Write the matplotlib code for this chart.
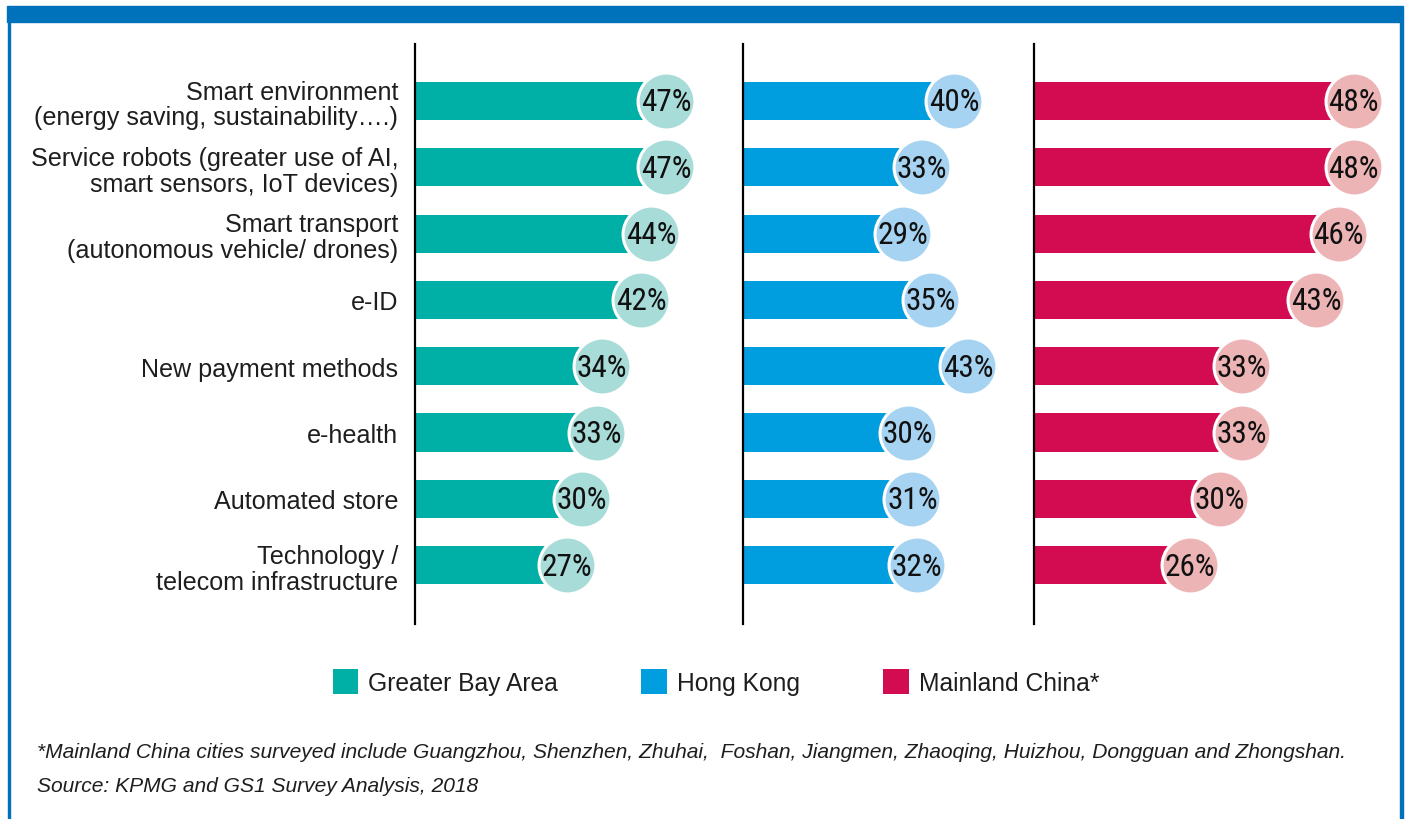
import matplotlib
matplotlib.use("Agg")
import matplotlib.pyplot as plt
from matplotlib.patches import Rectangle, Patch
from matplotlib import font_manager
from matplotlib.font_manager import FontProperties

categories = [
    "Smart environment\n(energy saving, sustainability\u2026.)",
    "Service robots (greater use of AI,\nsmart sensors, IoT devices)",
    "Smart transport\n(autonomous vehicle/ drones)",
    "e-ID",
    "New payment methods",
    "e-health",
    "Automated store",
    "Technology /\ntelecom infrastructure",
]
series_names = ["Greater Bay Area", "Hong Kong", "Mainland China*"]
gba = [47, 47, 44, 42, 34, 33, 30, 27]
hk = [40, 33, 29, 35, 43, 30, 31, 32]
mc = [48, 48, 46, 43, 33, 33, 30, 26]
footnote = ("*Mainland China cities surveyed include Guangzhou, Shenzhen, Zhuhai,  Foshan, "
            "Jiangmen, Zhaoqing, Huizhou, Dongguan and Zhongshan.")
source = "Source: KPMG and GS1 Survey Analysis, 2018"

bar_colors = ["#00afa5", "#009ddf", "#d30c52"]
circle_colors = ["#a8dcd8", "#a6d3f1", "#edb4b6"]
frame_blue = "#0071bb"
text_color = "#1e1e1e"

W, H = 1407, 820
fig = plt.figure(figsize=(W / 100, H / 100), dpi=100)

label_font = "Liberation Sans"

# find a condensed face for the percentage labels
cond = None
for f in font_manager.fontManager.ttflist:
    nm = f.name.lower()
    is_cond = (f.stretch in ("condensed", "semi-condensed", "extra-condensed")
               or "narrow" in nm or "condensed" in nm
               or "condensed" in f.fname.lower() or "narrow" in f.fname.lower())
    if is_cond and f.style == "normal" and f.weight in (400, "normal", "regular"):
        if cond is None or "roboto" in nm or "liberation" in nm:
            cond = f
if cond is not None:
    num_prop = FontProperties(fname=cond.fname, size=22.5)
else:
    num_prop = FontProperties(family="Roboto", size=18)

# panel layout in pixels: (spine x, right x, px per %, value at spine)
panels = [
    (415, 705, 4.95, -3.7),
    (743, 1010, 4.64, -5.5),
    (1034, 1395, 7.45, 5.1),
]
ax_top, ax_bot = 45, 625
n = len(categories)
row_px = 66.3
first_row = 102
y_top = -(first_row - ax_top) / row_px
y_bot = (ax_bot - first_row) / row_px

for k, ((x0, x1, kpx, v0), vals) in enumerate(zip(panels, [gba, hk, mc])):
    ax = fig.add_axes([x0 / W, 1 - ax_bot / H, (x1 - x0) / W, (ax_bot - ax_top) / H])
    ax.set_xlim(v0, v0 + (x1 - x0) / kpx)
    ax.set_ylim(y_bot, y_top)
    ys = list(range(n))
    ax.barh(ys, [v - v0 for v in vals], left=v0, height=0.575,
            color=bar_colors[k], zorder=2)
    ax.scatter(vals, ys, s=1680, color=circle_colors[k], edgecolor="white",
               linewidth=2.2, zorder=3, clip_on=False)
    for y, v in zip(ys, vals):
        ax.text(v, y + 0.015, f"{v}%", ha="center", va="center",
                fontproperties=num_prop, color="#111111", zorder=4)
    for s in ["top", "right", "bottom"]:
        ax.spines[s].set_visible(False)
    ax.spines["left"].set_linewidth(1.6)
    ax.spines["left"].set_color("black")
    ax.set_xticks([])
    if k == 0:
        ax.set_yticks(ys)
        ax.set_yticklabels(categories, fontsize=18.1, family=label_font,
                           linespacing=1.1, color=text_color)
        ax.tick_params(axis="y", length=0, pad=12)
    else:
        ax.set_yticks([])
    ax.set_facecolor("none")

handles = [Patch(facecolor=c, edgecolor="none") for c in bar_colors]
fig.legend(handles, series_names, loc="center", ncol=3,
           bbox_to_anchor=(716 / W, 1 - 683 / H), frameon=False,
           prop={"family": label_font, "size": 17.7},
           handlelength=1.02, handleheight=1.15, handletextpad=0.42,
           columnspacing=3.4, labelcolor=text_color)

fig.text(37 / W, 1 - 753 / H, footnote, ha="left", va="center", fontsize=15.1,
         style="italic", family=label_font, color=text_color)
fig.text(37 / W, 1 - 787 / H, source, ha="left", va="center", fontsize=15.1,
         style="italic", family=label_font, color=text_color)

# frame
fig.patches.append(Rectangle((7 / W, 1 - 23 / H), (1403 - 7) / W, 16 / H,
                             transform=fig.transFigure, color=frame_blue, zorder=0))
fig.patches.append(Rectangle((8 / W, 0), 2.2 / W, 1 - 23 / H,
                             transform=fig.transFigure, color=frame_blue, zorder=0))
fig.patches.append(Rectangle((1400 / W, 0), 2.5 / W, 1 - 23 / H,
                             transform=fig.transFigure, color=frame_blue, zorder=0))

fig.savefig("out.png", dpi=100)
